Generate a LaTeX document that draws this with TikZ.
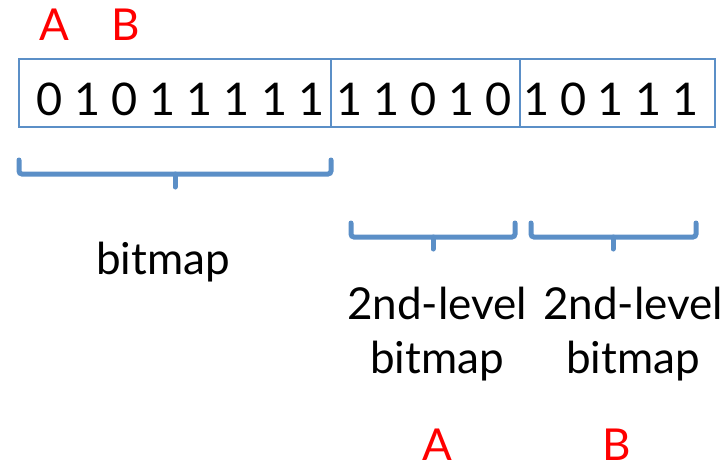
\documentclass[tikz,border=0pt]{standalone}
\usepackage{fontspec}
\setmainfont{Lato}
\usetikzlibrary{positioning}
\definecolor{boxblue}{RGB}{91,143,199}
\definecolor{labred}{RGB}{255,0,0}
\tikzset{
    block/.style = {draw=boxblue, rectangle, line width=1.5pt,
        minimum height=68pt},
    bit/.style = {anchor=base, inner sep=0pt, font=\fontsize{45}{48}\selectfont},
    caption/.style = {anchor=base, inner sep=0pt, align=center, font=\fontsize{44}{54}\selectfont},
    redlabel/.style = {anchor=base, inner sep=0pt, text=labred, font=\fontsize{44}{48}\selectfont},
    brace/.style = {draw=boxblue, line width=5pt, rounded corners=3pt, line cap=round}
}

\begin{document}
\begin{tikzpicture}[x=1pt,y=-1pt]
                \useasboundingbox (0,0) rectangle (728,464);
                \node[block, minimum width=312pt] (bm) at (175,93) {};
                \node[block, minimum width=189pt] (lvA) at (425.5,93) {};
                \node[block, minimum width=195pt] (lvB) at (617.5,93) {};
                \foreach \b [count=\i] in {0,1,0,1,1,1,1,1,1,1,0,1,0,1,0,1,1,1}
                    \node[bit] (bit\i) at (12.6+37.4*\i,115) {\b};
                \node[redlabel] (topA) at (54,40) {A};
                \node[redlabel] (topB) at (126,40) {B};
                \draw[brace] (19,160) |- (331,174) -- (331,160);
                \draw[brace] (175,174) -- (175,187);
                \draw[brace] (351,223) |- (515,237) -- (515,223);
                \draw[brace] (433,237) -- (433,249);
                \draw[brace] (531,223) |- (696,237) -- (696,223);
                \draw[brace] (613,237) -- (613,249);
                \node[caption] (capbm) at (163,274) {bitmap};
                \node[caption] (capA) at (437,373) {2nd-level\\bitmap};
                \node[caption] (capB) at (633,373) {2nd-level\\bitmap};
                \node[redlabel] (botA) at (437,460) {A};
                \node[redlabel] (botB) at (617,460) {B};
            \end{tikzpicture}
\end{document}
